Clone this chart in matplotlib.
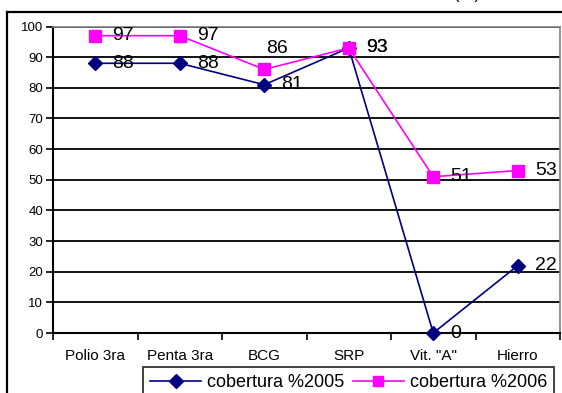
import matplotlib
matplotlib.use("Agg")
import matplotlib.pyplot as plt
from matplotlib.lines import Line2D

plt.rcParams['font.family'] = ['Liberation Sans', 'DejaVu Sans']

categories = ['Polio 3ra', 'Penta 3ra', 'BCG', 'SRP', 'Vit. "A"', 'Hierro']
cob_2005 = [88, 88, 81, 93, 0, 22]
cob_2006 = [97, 97, 86, 93, 51, 53]
series_names = ['cobertura %2005', 'cobertura %2006']
yticks = list(range(0, 101, 10))

W, H = 562, 393
fig = plt.figure(figsize=(W / 100, H / 100), dpi=100)
ax = fig.add_axes([53 / W, 1 - 333 / H, (560 - 53) / W, (333 - 26.5) / H])

x = list(range(len(categories)))
navy = '#000080'
mag = '#FF00FF'

ax.set_ylim(0, 100)
ax.set_xlim(-0.5, len(categories) - 0.55)
ax.set_yticks(yticks)
ax.yaxis.grid(True, color='black', linewidth=1.3)
ax.set_axisbelow(True)

ax.plot(x, cob_2005, color=navy, lw=1.2, marker='D', ms=7.5, mec=navy, mfc=navy,
        clip_on=False, zorder=3)
ax.plot(x, cob_2006, color=mag, lw=1.2, marker='s', ms=8, mec=mag, mfc=mag,
        clip_on=False, zorder=4)

# data labels
for xi, v in zip(x, cob_2005):
    ax.annotate(str(v), (xi, v), xytext=(12.5, 0), textcoords='offset points',
                ha='left', va='center', fontsize=14, color='black', zorder=5,
                annotation_clip=False)
for xi, v in zip(x, cob_2006):
    off = (12.5, 0)
    if categories[xi] == 'BCG':
        off = (1.5, 15)
    ax.annotate(str(v), (xi, v), xytext=off, textcoords='offset points',
                ha='left', va='center', fontsize=14, color='black', zorder=5,
                annotation_clip=False)

# axes styling
ax.set_xticks(x)
ax.set_xticklabels(categories, fontsize=11)
ax.set_xticks([i - 0.5 for i in range(len(categories) + 1)], minor=True)
ax.tick_params(axis='x', which='major', length=0, pad=11.5)
ax.tick_params(axis='x', which='minor', length=5, width=1.2, color='black', direction='out')
ax.tick_params(axis='y', length=5, width=1.2, direction='out', labelsize=9.5, pad=2)
for s in ['left', 'bottom']:
    ax.spines[s].set_color('black')
    ax.spines[s].set_linewidth(1.5)
for s in ['top', 'right']:
    ax.spines[s].set_color('#808080')
    ax.spines[s].set_linewidth(1.2)

# outer chart border (partly cropped)
fig.add_artist(Line2D([7.3 / W, 7.3 / W], [0, 1 - 12.3 / H], transform=fig.transFigure,
                      color='black', lw=1.6))
fig.add_artist(Line2D([7.3 / W, 1], [1 - 12.3 / H, 1 - 12.3 / H], transform=fig.transFigure,
                      color='black', lw=1.6))

# title fragment cropped at top
fig.text(467 / W, 1 + 1.5 / H, '(%)', ha='center', va='baseline', fontsize=12)

# legend
handles = [
    Line2D([], [], color=navy, lw=1.2, marker='D', ms=7, mfc=navy, mec=navy),
    Line2D([], [], color=mag, lw=1.2, marker='s', ms=7.5, mfc=mag, mec=mag),
]
leg = fig.legend(handles, series_names, loc='upper left',
                 bbox_to_anchor=(143 / W, 1 - 367 / H), ncol=2, fontsize=13,
                 frameon=True, fancybox=False, borderaxespad=0, borderpad=0.4,
                 handlelength=2.8, handletextpad=0.33, columnspacing=0.5,
                 numpoints=1)
leg.get_frame().set_edgecolor('black')
leg.get_frame().set_linewidth(1.3)

fig.savefig('out.png', dpi=100)
